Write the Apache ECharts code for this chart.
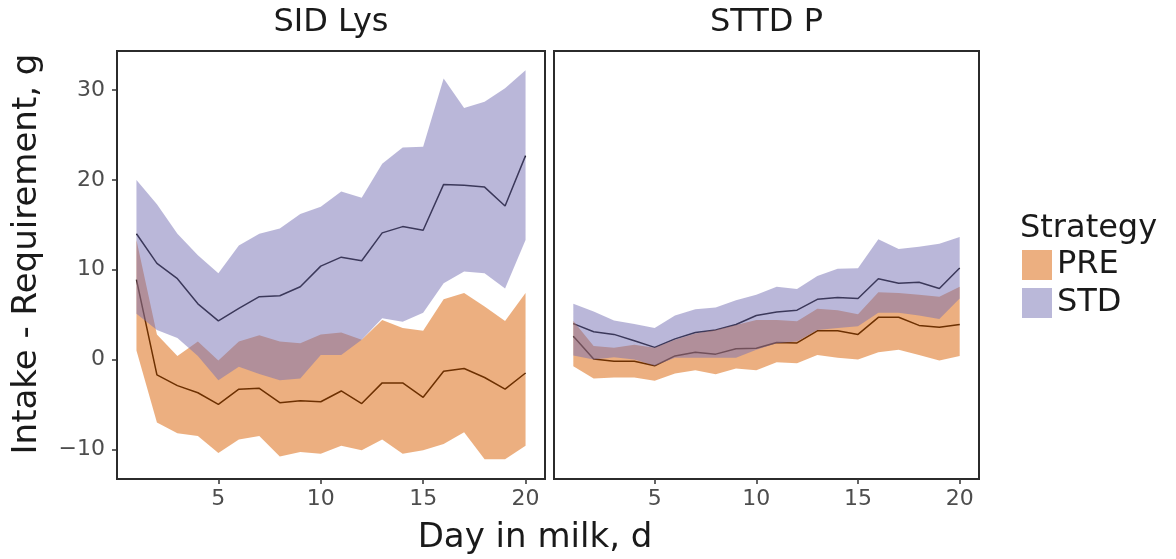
<!DOCTYPE html>
<html>
<head>
<meta charset="utf-8">
<script src="https://cdn.jsdelivr.net/npm/echarts@6/dist/echarts.min.js"></script>
<style>
html,body{margin:0;padding:0;background:#fff;}
#chart{width:1176px;height:559px;}
</style>
</head>
<body>
<div id="chart"></div>
<script>
// ---- data ----
const days = [1,2,3,4,5,6,7,8,9,10,11,12,13,14,15,16,17,18,19,20];
const panels = ['SID Lys', 'STTD P'];
const strategies = ['PRE', 'STD'];
const xTicks = [5, 10, 15, 20];
const yTicks = [-10, 0, 10, 20, 30];

// SID Lys
const lysPreMean = [8.9, -1.7, -2.9, -3.7, -5.0, -3.3, -3.2, -4.8, -4.6, -4.7, -3.5, -4.9, -2.6, -2.6, -4.2, -1.3, -1.0, -2.0, -3.3, -1.5];
const lysPreLow  = [1.0, -7.0, -8.2, -8.5, -10.4, -8.9, -8.5, -10.8, -10.3, -10.5, -9.6, -10.1, -8.9, -10.5, -10.1, -9.4, -8.1, -11.1, -11.1, -9.6];
const lysPreHigh = [13.3, 2.8, 0.4, 2.0, -0.1, 2.0, 2.7, 2.0, 1.8, 2.8, 3.0, 2.2, 4.4, 3.5, 3.2, 6.7, 7.4, 5.9, 4.3, 7.4];
const lysStdMean = [14.0, 10.7, 9.0, 6.2, 4.3, 5.7, 7.0, 7.1, 8.1, 10.4, 11.4, 11.0, 14.1, 14.8, 14.4, 19.5, 19.4, 19.2, 17.1, 22.7];
const lysStdLow  = [5.1, 3.3, 2.4, 0.4, -2.3, -0.8, -1.6, -2.3, -2.1, 0.5, 0.5, 2.2, 4.6, 4.2, 5.2, 8.5, 9.8, 9.6, 7.9, 13.3];
const lysStdHigh = [20.0, 17.3, 14.0, 11.6, 9.6, 12.7, 14.0, 14.6, 16.2, 17.0, 18.7, 18.0, 21.8, 23.6, 23.7, 31.3, 28.0, 28.7, 30.2, 32.2];

// STTD P
const pPreMean = [2.6, 0.05, -0.2, -0.2, -0.7, 0.4, 0.8, 0.6, 1.2, 1.25, 1.9, 1.85, 3.2, 3.2, 2.8, 4.7, 4.7, 3.8, 3.6, 3.9];
const pPreLow  = [-0.75, -2.1, -2.0, -2.0, -2.35, -1.55, -1.2, -1.65, -1.0, -1.2, -0.3, -0.4, 0.5, 0.2, 0.0, 0.8, 1.1, 0.5, -0.1, 0.4];
const pPreHigh = [4.3, 1.5, 1.3, 1.65, 1.3, 2.2, 2.9, 3.3, 3.85, 4.4, 4.4, 4.25, 5.65, 5.5, 5.05, 7.5, 7.4, 7.2, 7.0, 8.1];
const pStdMean = [4.0, 3.1, 2.8, 2.1, 1.35, 2.3, 3.0, 3.3, 3.9, 4.9, 5.3, 5.5, 6.7, 6.9, 6.8, 9.0, 8.5, 8.6, 7.9, 10.2];
const pStdLow  = [0.45, 0.0, 0.25, 0.0, -0.7, 0.2, 0.2, 0.2, 0.2, 1.1, 1.8, 2.0, 3.3, 3.5, 3.7, 5.2, 5.2, 4.9, 4.5, 6.8];
const pStdHigh = [6.2, 5.35, 4.35, 3.95, 3.5, 4.9, 5.6, 5.8, 6.6, 7.2, 8.1, 7.85, 9.3, 10.1, 10.15, 13.4, 12.3, 12.55, 12.9, 13.65];

// ---- styles ----
const FONT = 'DejaVu Sans';
const COLORS = { PRE: '#D95F02', STD: '#7570B3' };
const LEGEND_COLORS = { PRE: '#ECAF80', STD: '#BAB8D9' };
const ALPHA = 0.5;

const panelData = [
  { PRE: [lysPreLow, lysPreMean, lysPreHigh], STD: [lysStdLow, lysStdMean, lysStdHigh] },
  { PRE: [pPreLow, pPreMean, pPreHigh], STD: [pStdLow, pStdMean, pStdHigh] }
];

const series = [];
panelData.forEach((pd, gi) => {
  // mean lines first (drawn under the semi-transparent ribbons)
  strategies.forEach(s => {
    series.push({
      type: 'line', name: s + '_mean_' + gi, xAxisIndex: gi, yAxisIndex: gi,
      data: days.map((d, i) => [d, pd[s][1][i]]),
      showSymbol: false, symbol: 'none', z: 2, silent: true,
      lineStyle: { color: '#000', width: 1.5 }, itemStyle: { color: '#000' }
    });
  });
  strategies.forEach(s => {
    const low = pd[s][0], high = pd[s][2];
    series.push({
      type: 'custom', name: s, xAxisIndex: gi, yAxisIndex: gi,
      coordinateSystem: 'cartesian2d', z: 3, silent: true,
      itemStyle: { color: LEGEND_COLORS[s] },
      encode: { x: 0, y: [1, 2] },
      data: days.map((d, i) => [d, low[i], high[i]]),
      renderItem: function (params, api) {
        if (params.dataIndex !== 0) return null;
        const pts = [];
        for (let i = 0; i < days.length; i++) pts.push(api.coord([days[i], high[i]]));
        for (let i = days.length - 1; i >= 0; i--) pts.push(api.coord([days[i], low[i]]));
        return {
          type: 'polygon',
          shape: { points: pts },
          style: { fill: COLORS[s], opacity: ALPHA, stroke: null }
        };
      }
    });
  });
});

const grids = [
  { left: 117, top: 51, width: 428, height: 428 },
  { left: 554, top: 51, width: 425, height: 428 }
].map(g => Object.assign(g, { show: true, borderColor: '#2b2b2b', borderWidth: 2, backgroundColor: 'rgba(0,0,0,0)', containLabel: false }));

const fmtMinus = v => String(v).replace('-', '\u2212');

const xAxes = [0, 1].map(gi => ({
  type: 'value', gridIndex: gi, min: 0.05, max: 20.95, position: 'bottom',
  splitLine: { show: false }, axisLine: { show: false, onZero: false },
  axisTick: { show: true, length: 5, lineStyle: { color: '#333', width: 1.5 }, customValues: xTicks },
  axisLabel: { show: true, customValues: xTicks, margin: 9, fontSize: 22, fontFamily: FONT, color: '#4d4d4d', formatter: fmtMinus }
}));

const yAxes = [0, 1].map(gi => ({
  type: 'value', gridIndex: gi, min: -13.3, max: 34.35, position: 'left',
  splitLine: { show: false }, axisLine: { show: false, onZero: false },
  axisTick: { show: gi === 0, length: 5, lineStyle: { color: '#333', width: 1.5 }, customValues: yTicks },
  axisLabel: { show: gi === 0, customValues: yTicks, margin: 12, fontSize: 22, fontFamily: FONT, color: '#4d4d4d', formatter: fmtMinus }
}));

const textColor = '#1a1a1a';
const graphic = [
  { type: 'text', x: 331, y: 23, style: { text: panels[0], fontSize: 32, fontFamily: FONT, fill: textColor, align: 'center', verticalAlign: 'middle' } },
  { type: 'text', x: 766.5, y: 23, style: { text: panels[1], fontSize: 32, fontFamily: FONT, fill: textColor, align: 'center', verticalAlign: 'middle' } },
  { type: 'text', x: 535, y: 538, style: { text: 'Day in milk, d', fontSize: 34, fontFamily: FONT, fill: textColor, align: 'center', verticalAlign: 'middle' } },
  { type: 'text', x: 27, y: 254, rotation: Math.PI / 2, style: { text: 'Intake - Requirement, g', fontSize: 34, fontFamily: FONT, fill: textColor, align: 'center', verticalAlign: 'middle' } },
  { type: 'text', x: 1020, y: 229, style: { text: 'Strategy', fontSize: 32, fontFamily: FONT, fill: textColor, align: 'left', verticalAlign: 'middle' } }
];

const chart = echarts.init(document.getElementById('chart'), null, { renderer: 'canvas' });
chart.setOption({
  animation: false,
  backgroundColor: '#fff',
  grid: grids,
  xAxis: xAxes,
  yAxis: yAxes,
  legend: {
    orient: 'vertical', left: 1022, top: 249, padding: 0,
    itemWidth: 30, itemHeight: 30, itemGap: 6, icon: 'rect', selectedMode: false,
    textStyle: { fontSize: 32, fontFamily: FONT, color: textColor, padding: [0, 0, 0, 0] },
    data: strategies.map(s => ({ name: s, icon: 'rect', itemStyle: { color: LEGEND_COLORS[s], borderWidth: 0 } }))
  },
  graphic: graphic,
  series: series
});
</script>
</body>
</html>
